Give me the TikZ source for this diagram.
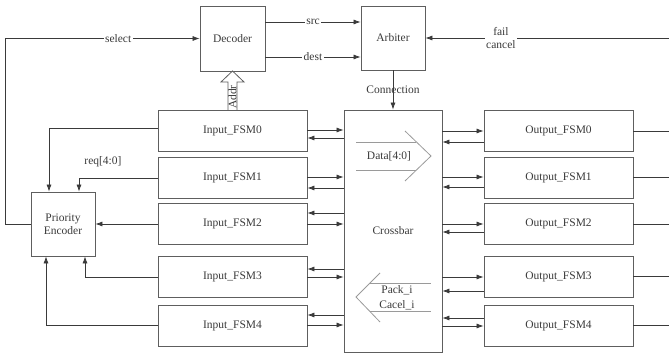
\documentclass[tikz,border=0pt]{standalone}
\usepackage{fontspec}
\setmainfont{Liberation Serif}
\usetikzlibrary{arrows.meta}
\definecolor{ink}{HTML}{3A3A3A}
\definecolor{edge}{HTML}{5E5E5E}
\definecolor{hollow}{HTML}{9A9A9A}
\begin{document}
\begin{tikzpicture}[x=1pt,y=-1pt,
  font=\fontsize{11.5}{13}\selectfont, text=ink,
  block/.style={draw=edge, line width=0.8pt, align=center, inner sep=0pt},
  fsm/.style={block, minimum width=149pt, minimum height=41pt},
  wire/.style={draw=ink, line width=0.7pt},
  arr/.style={wire, -{Latex[length=7pt,width=5pt]}},
  lbl/.style={fill=white, inner sep=1.5pt},
  hollowline/.style={draw=hollow, line width=0.8pt}]
\useasboundingbox (0,0) rectangle (669,355);

% control blocks
\node[block, minimum width=65pt, minimum height=65pt] (dec) at (232.5,38.5) {Decoder};
\node[block, minimum width=64pt, minimum height=64pt] (arb) at (393,38) {Arbiter};
\node[block, minimum width=64pt, minimum height=64pt] (pe) at (63,224) {Priority\\Encoder};
\node[block, minimum width=98pt, minimum height=242pt] (xb) at (393,231) {Crossbar};

% input and output state machines
\foreach \i/\y in {0/131,1/177.5,2/224,3/276.5,4/325.5}{
  \node[fsm] (in\i) at (232.5,\y) {Input\_FSM\i};
  \node[fsm] (out\i) at (558.5,\y) {Output\_FSM\i};
}

% decoder -> arbiter
\draw[arr] (dec.east |- 0,22) -- node[lbl]{src} (arb.west |- 0,22);
\draw[arr] (dec.east |- 0,57) -- node[lbl]{dest} (arb.west |- 0,57);

% fail / cancel feedback
\coordinate (fc) at (669,38);
\draw[arr] (fc) -- node[lbl, pos=0.69, align=center]{fail\\cancel} (arb.east);

% arbiter -> crossbar
\draw[arr] (arb.south) -- node[pos=0.5]{Connection} (xb.north);

% select path from the priority encoder to the decoder
\draw[arr] (pe.west) -- ++(-25,0) |- node[lbl, pos=0.79]{select} (dec.west);

% request lines into the priority encoder
\draw[arr] ([yshift=3pt]in0.west) -| ([xshift=-14pt]pe.north);
\draw[arr] ([yshift=-0.5pt]in1.west) -| ([xshift=16pt]pe.north);
\draw[arr] (in2.west) -- (pe.east);
\draw[arr] ([yshift=-0.5pt]in3.west) -| ([xshift=22pt]pe.south);
\draw[arr] ([yshift=0.5pt]in4.west) -| ([xshift=-17pt]pe.south);
\node at (103,162) {req[4:0]};

% address to decoder (hollow arrow)
\draw[draw=edge, line width=0.8pt, fill=white]
  (228,110) -- (228,82) -- (221,82) -- (232.5,71) -- (244,82) -- (237,82) -- (237,110);
\node[rotate=90, inner sep=0pt] at (232.5,97) {Addr};

% input fsm <-> crossbar
\foreach \i/\ya/\yb in {0/130/138,1/177/188}{
  \draw[arr] (in\i.east |- 0,\ya) -- (xb.west |- 0,\ya);
  \draw[arr] (xb.west |- 0,\yb) -- (in\i.east |- 0,\yb);
}
\foreach \i/\ya/\yb in {2/213/224,3/269/277,4/315/325}{
  \draw[arr] (xb.west |- 0,\ya) -- (in\i.east |- 0,\ya);
  \draw[arr] (in\i.east |- 0,\yb) -- (xb.west |- 0,\yb);
}

% crossbar <-> output fsm
\foreach \i/\ya/\yb in {0/131/142,1/177/187,2/224/232,3/277/291}{
  \draw[arr] (xb.east |- 0,\ya) -- (out\i.west |- 0,\ya);
  \draw[arr] (out\i.west |- 0,\yb) -- (xb.east |- 0,\yb);
}
\draw[arr] (out4.west |- 0,318) -- (xb.east |- 0,318);
\draw[arr] (xb.east |- 0,326) -- (out4.west |- 0,326);

% output fsm lines leaving to the right
\foreach \i in {0,...,4}{
  \coordinate (o\i) at (669,0 |- out\i.east);
  \draw[wire] (out\i.east) -- (o\i);
}

% data flow inside the crossbar
\draw[hollowline] (356,142) -- (416,142);
\draw[hollowline] (356,170) -- (416,170);
\draw[hollowline] (405,131) -- (431,156) -- (405,181);
\node at (389,156) {Data[4:0]};

% ack / cancel flow inside the crossbar
\draw[hollowline] (370,283) -- (431,283);
\draw[hollowline] (370,311) -- (431,311);
\draw[hollowline] (380,273) -- (356,297) -- (380,322);
\node at (397,290) {Pack\_i};
\node at (397,305) {Cacel\_i};
\end{tikzpicture}
\end{document}
